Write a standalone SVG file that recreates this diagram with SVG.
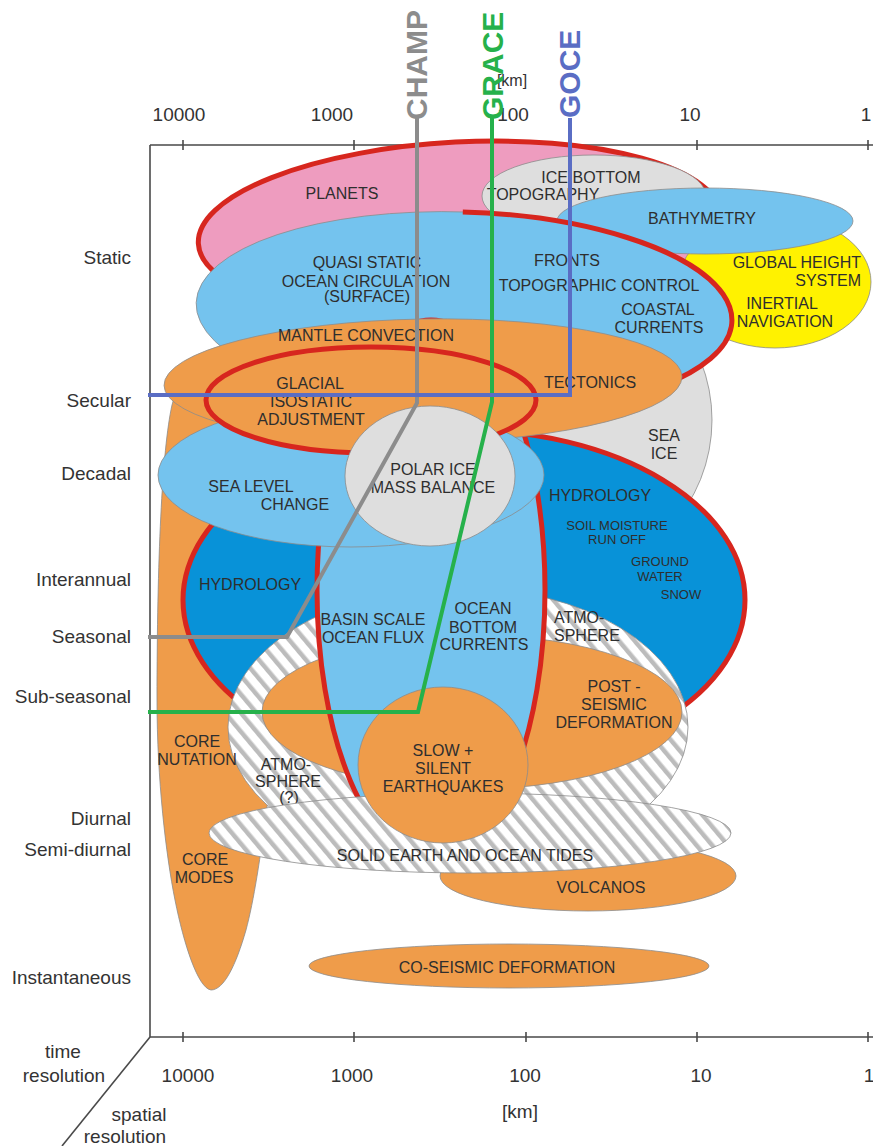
<svg xmlns="http://www.w3.org/2000/svg" width="873" height="1146" viewBox="0 0 873 1146">
<defs>
<style>
text{font-family:"Liberation Sans",Arial,sans-serif;fill:#2e2e2e}
.n{font-size:16px;text-anchor:middle}
.s{font-size:13px;text-anchor:middle}
.ax{font-size:19px;fill:#333}
.ae{text-anchor:end}
.am{text-anchor:middle}
.sat{font-size:30px;font-weight:bold}
.thin{stroke:#8c8c8c;stroke-width:0.8}
.red{stroke:#d7261e;stroke-width:5}
.pink{fill:#ee9cbf}
.lb{fill:#74c3ee}
.db{fill:#0892d8}
.or{fill:#ef9c4a}
.gr{fill:#dedede}
.ye{fill:#fff200}
.ht{fill:url(#hatch)}
.trk{fill:none;stroke-width:4;stroke-linejoin:miter}
</style>
<pattern id="hatch" width="12" height="12" patternUnits="userSpaceOnUse" patternTransform="rotate(-40)">
<rect width="12" height="12" fill="#ffffff"/>
<rect x="0" y="0" width="4.5" height="12" fill="#bcbcbc"/>
</pattern>
</defs>
<rect width="873" height="1146" fill="#ffffff"/>

<g id="axes" stroke="#4a4a4a" stroke-width="1.6" fill="none">
<path d="M150,145 V1037 H873 M150,145 H873"/>
<path d="M183,140 V150 M354,140 V150 M526,140 V150 M697,140 V150 M868,140 V150"/>
<path d="M183,1032 V1042 M354,1032 V1042 M526,1032 V1042 M697,1032 V1042 M868,1032 V1042"/>
<path d="M150,1037 L62,1146"/>
</g>
<g id="axis-labels">
<text class="ax am" x="179" y="121">10000</text>
<text class="ax am" x="332" y="121">1000</text>
<text class="ax am" x="513" y="121">100</text>
<text class="ax am" x="690" y="121">10</text>
<text class="ax am" x="866" y="121">1</text>
<text class="ax am" x="512" y="86" style="font-size:16px">[km]</text>
<text class="ax ae" x="131" y="264">Static</text>
<text class="ax ae" x="131" y="407">Secular</text>
<text class="ax ae" x="131" y="480">Decadal</text>
<text class="ax ae" x="131" y="586">Interannual</text>
<text class="ax ae" x="131" y="643">Seasonal</text>
<text class="ax ae" x="131" y="703">Sub-seasonal</text>
<text class="ax ae" x="131" y="825">Diurnal</text>
<text class="ax ae" x="131" y="856">Semi-diurnal</text>
<text class="ax ae" x="131" y="984">Instantaneous</text>
<text class="ax am" x="63" y="1058">time</text>
<text class="ax am" x="64" y="1082">resolution</text>
<text class="ax am" x="139" y="1121">spatial</text>
<text class="ax am" x="125" y="1143">resolution</text>
<text class="ax am" x="188" y="1082">10000</text>
<text class="ax am" x="352" y="1082">1000</text>
<text class="ax am" x="525" y="1082">100</text>
<text class="ax am" x="701" y="1082">10</text>
<text class="ax am" x="869" y="1082">1</text>
<text class="ax am" x="520" y="1118">[km]</text>
</g>

<g id="core">
<path class="or thin" d="M211,990 C198,988 184,945 175,900 C166,855 157,780 157,700 C157,560 162,450 172,405 C180,372 205,356 235,356 C275,356 288,420 285,520 C283,650 278,740 268,800 C260,860 254,900 246,930 C236,965 224,990 211,990 Z"/>
</g>
<g id="planets">
<ellipse class="pink red" cx="460" cy="230" rx="262" ry="88" transform="rotate(-3 460 230)"/>
<text class="n" x="342" y="199">PLANETS</text>
</g>
<g id="ice-bottom">
<ellipse class="gr thin" cx="594" cy="196" rx="112" ry="41"/>
<text class="n" x="591" y="183">ICE BOTTOM</text>
<text class="n" x="543" y="200">TOPOGRAPHY</text>
</g>
<g id="sea-ice">
<ellipse class="gr thin" cx="562" cy="420" rx="150" ry="155"/>
<text class="n" x="664" y="441">SEA</text>
<text class="n" x="664" y="459">ICE</text>
</g>
<g id="global-height">
<ellipse class="ye thin" cx="775" cy="282" rx="96" ry="66"/>
<text class="n" x="861" y="268" style="text-anchor:end">GLOBAL HEIGHT</text>
<text class="n" x="861" y="286" style="text-anchor:end">SYSTEM</text>
<text class="n" x="782" y="309">INERTIAL</text>
<text class="n" x="785" y="327">NAVIGATION</text>
</g>
<g id="bathymetry">
<ellipse class="lb thin" cx="705" cy="221" rx="148" ry="33"/>
<text class="n" x="702" y="224">BATHYMETRY</text>
</g>
<g id="quasi-static">
<g transform="rotate(2 464 312)">
<ellipse class="lb thin" cx="464" cy="312" rx="268" ry="100"/>
<path class="red" fill="none" d="M459.3,212 A268,100 0 0 1 598,398.6"/>
</g>
<text class="n" x="367" y="268">QUASI STATIC</text>
<text class="n" x="366" y="287">OCEAN CIRCULATION</text>
<text class="n" x="367" y="302">(SURFACE)</text>
<text class="n" x="567" y="266">FRONTS</text>
<text class="n" x="599" y="291">TOPOGRAPHIC CONTROL</text>
<text class="n" x="658" y="315">COASTAL</text>
<text class="n" x="659" y="333">CURRENTS</text>
</g>
<g id="hydrology">
<ellipse class="db red" cx="464" cy="600" rx="281" ry="170"/>
<text class="n" x="600" y="501">HYDROLOGY</text>
<text class="s" x="617" y="530">SOIL MOISTURE</text>
<text class="s" x="617" y="544">RUN OFF</text>
<text class="s" x="660" y="566">GROUND</text>
<text class="s" x="660" y="581">WATER</text>
<text class="s" x="681" y="599">SNOW</text>
<text class="n" x="250" y="590">HYDROLOGY</text>
</g>
<g id="atmosphere">
<ellipse class="ht thin" cx="458" cy="727" rx="230" ry="140"/>
<text class="n" x="554" y="623" style="text-anchor:start">ATMO-</text>
<text class="n" x="554" y="641" style="text-anchor:start">SPHERE</text>
<text class="n" x="286" y="770">ATMO-</text>
<text class="n" x="288" y="787">SPHERE</text>
<text class="n" x="289" y="803">(?)</text>
</g>
<g id="post-seismic">
<ellipse class="or thin" cx="472" cy="712" rx="210" ry="77"/>
<text class="n" x="614" y="692">POST -</text>
<text class="n" x="614" y="710">SEISMIC</text>
<text class="n" x="614" y="728">DEFORMATION</text>
</g>
<g id="basin-scale">
<ellipse class="lb red" cx="431" cy="590" rx="114" ry="270"/>
<text class="n" x="373" y="625">BASIN SCALE</text>
<text class="n" x="373" y="643">OCEAN FLUX</text>
<text class="n" x="483" y="614">OCEAN</text>
<text class="n" x="483" y="633">BOTTOM</text>
<text class="n" x="484" y="650">CURRENTS</text>
</g>
<g id="mantle">
<ellipse class="or thin" cx="423" cy="381" rx="259" ry="62" transform="rotate(-1 423 381)"/>
<text class="n" x="366" y="341">MANTLE CONVECTION</text>
<text class="n" x="590" y="388">TECTONICS</text>
</g>
<g id="sea-level">
<ellipse class="lb thin" cx="351" cy="475" rx="193" ry="72"/>
<text class="n" x="251" y="492">SEA LEVEL</text>
<text class="n" x="295" y="510">CHANGE</text>
</g>
<g id="glacial">
<ellipse class="or red" cx="371" cy="400" rx="165" ry="53"/>
<text class="n" x="310" y="389">GLACIAL</text>
<text class="n" x="311" y="407">ISOSTATIC</text>
<text class="n" x="311" y="425">ADJUSTMENT</text>
</g>
<g id="polar-ice">
<ellipse class="gr thin" cx="430" cy="476" rx="85" ry="70"/>
<text class="n" x="433" y="475">POLAR ICE</text>
<text class="n" x="433" y="493">MASS BALANCE</text>
</g>
<g id="volcanos">
<ellipse class="or thin" cx="588" cy="876" rx="148" ry="35"/>
<text class="n" x="601" y="893">VOLCANOS</text>
</g>
<g id="tides">
<ellipse class="ht thin" cx="470" cy="833" rx="261" ry="40"/>
<text class="n" x="465" y="861">SOLID EARTH AND OCEAN TIDES</text>
</g>
<g id="slow-earthquakes">
<ellipse class="or thin" cx="443" cy="765" rx="85" ry="78"/>
<text class="n" x="443" y="756">SLOW +</text>
<text class="n" x="443" y="774">SILENT</text>
<text class="n" x="443" y="792">EARTHQUAKES</text>
</g>
<g id="co-seismic">
<ellipse class="or thin" cx="509" cy="966" rx="200" ry="22"/>
<text class="n" x="507" y="973">CO-SEISMIC DEFORMATION</text>
</g>
<g id="core-labels">
<text class="n" x="197" y="747">CORE</text>
<text class="n" x="197" y="765">NUTATION</text>
<text class="n" x="205" y="865">CORE</text>
<text class="n" x="204" y="883">MODES</text>
</g>

<g id="connectors">
<path class="trk" stroke="#8c8c8c" d="M417,118 V403 L287,637 H148"/>
<path class="trk" stroke="#26b14b" d="M492,118 V402 L418,712 H148"/>
<path class="trk" stroke="#5a6dc4" d="M570,118 V395 H148"/>
</g>
<g id="missions">
<text class="sat" style="fill:#8c8c8c" transform="translate(427,120) rotate(-90)">CHAMP</text>
<text class="sat" style="fill:#26b14b" transform="translate(503,120) rotate(-90)">GRACE</text>
<text class="sat" style="fill:#5a6dc4" transform="translate(580,118) rotate(-90)">GOCE</text>
</g>
</svg>
